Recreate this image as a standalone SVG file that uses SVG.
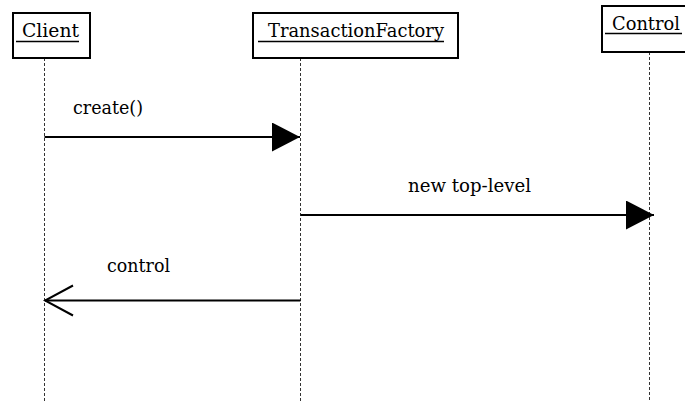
<svg xmlns="http://www.w3.org/2000/svg" width="685" height="402" viewBox="0 0 685 402">
<style>
.box{fill:#fff;stroke:#000;stroke-width:2}
.lbl{font-family:'DejaVu Serif','Liberation Serif','Times New Roman',serif;font-size:19px;fill:#000}
.ul{stroke:#000;stroke-width:1.5}
.life{stroke:#333;stroke-width:1;stroke-dasharray:3 2;fill:none}
.msg{stroke:#000;stroke-width:2;fill:none}
</style>
<defs>
<marker id="filled" markerWidth="28" markerHeight="30" refX="28" refY="14.5" orient="auto" markerUnits="userSpaceOnUse">
<path d="M0,0 L28,14.5 L0,29 Z" fill="#000"/>
</marker>
<marker id="open" markerWidth="32" markerHeight="34" refX="30" refY="16" orient="auto" markerUnits="userSpaceOnUse">
<path d="M2,1 L30,16 L2,31" fill="none" stroke="#000" stroke-width="2"/>
</marker>
</defs>
<g id="lifelines">
<line class="life" x1="44.5" y1="58" x2="44.5" y2="402"/>
<line class="life" x1="300.5" y1="58" x2="300.5" y2="402"/>
<line class="life" x1="649.5" y1="52" x2="649.5" y2="402"/>
</g>
<g id="node-client">
<rect class="box" x="13" y="13" width="77" height="45"/>
<text class="lbl" x="22" y="37" textLength="57" lengthAdjust="spacingAndGlyphs">Client</text>
<line class="ul" x1="16" y1="41.5" x2="79" y2="41.5"/>
</g>
<g id="node-transactionfactory">
<rect class="box" x="253" y="13" width="205" height="45"/>
<text class="lbl" x="268" y="37" textLength="176" lengthAdjust="spacingAndGlyphs">TransactionFactory</text>
<line class="ul" x1="258" y1="41.5" x2="444" y2="41.5"/>
</g>
<g id="node-control">
<rect class="box" x="602" y="6" width="84" height="46"/>
<text class="lbl" x="612" y="30" textLength="68" lengthAdjust="spacingAndGlyphs">Control</text>
<line class="ul" x1="605" y1="33.5" x2="682" y2="33.5"/>
</g>
<g id="connectors">
<line class="msg" x1="44.5" y1="137" x2="300" y2="137" marker-end="url(#filled)"/>
<text class="lbl" x="73" y="114" textLength="70" lengthAdjust="spacingAndGlyphs">create()</text>
<line class="msg" x1="300.5" y1="215" x2="654" y2="215" marker-end="url(#filled)"/>
<text class="lbl" x="408" y="192" textLength="123" lengthAdjust="spacingAndGlyphs">new top-level</text>
<line class="msg" x1="300.5" y1="300.5" x2="45" y2="300.5" marker-end="url(#open)"/>
<text class="lbl" x="107" y="272" textLength="63" lengthAdjust="spacingAndGlyphs">control</text>
</g>
</svg>
